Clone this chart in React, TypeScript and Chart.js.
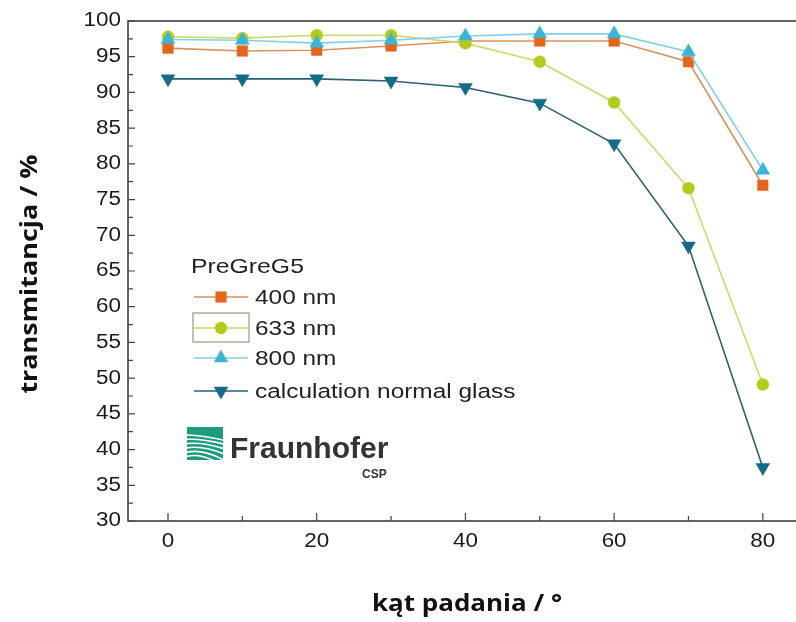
import React, { useEffect, useRef } from "react";
import { Chart, registerables } from "chart.js";
import { drawPoint } from "chart.js/helpers";

Chart.register(...registerables);

const angles = [0, 10, 20, 30, 40, 50, 60, 70, 80];
const nm400 = [96.2, 95.8, 95.9, 96.5, 97.2, 97.2, 97.2, 94.3, 77.0];
const nm633 = [97.8, 97.6, 98.0, 98.0, 96.9, 94.3, 88.6, 76.6, 49.1];
const nm800 = [97.4, 97.3, 96.9, 97.3, 97.9, 98.2, 98.2, 95.7, 79.1];
const normalGlass = [91.9, 91.9, 91.9, 91.6, 90.7, 88.5, 82.8, 68.5, 37.5];
const xTickLabels = [0, 20, 40, 60, 80];
const xMinorTicks = [10, 30, 50, 70];
const seriesNames = ["400 nm", "633 nm", "800 nm", "calculation normal glass"];
const legendTitle = "PreGreG5";
const yTitle = "transmitancja / %";
const xTitle = "kąt padania / °";

const W = 812;
const H = 622;

const toXY = (vals: number[]) => vals.map((v, i) => ({ x: angles[i], y: v }));

function stretchedText(ctx: CanvasRenderingContext2D, text: string, x: number, y: number, sx: number) {
  ctx.save();
  ctx.translate(x, y);
  ctx.scale(sx, 1);
  ctx.fillText(text, 0, 0);
  ctx.restore();
}

const framePlugin = {
  id: "frame",
  beforeDatasetsDraw(chart: any) {
    const { ctx, chartArea: a, scales } = chart;
    const xs = scales.x;
    const ys = scales.y;
    ctx.save();
    ctx.strokeStyle = "#333";
    ctx.lineWidth = 1.5;
    ctx.strokeRect(a.left, a.top, a.right - a.left, a.bottom - a.top);
    ctx.lineWidth = 1.2;
    ctx.strokeStyle = "#444";
    ctx.beginPath();
    for (let v = 30; v <= 100; v += 2.5) {
      const y = ys.getPixelForValue(v);
      const major = Math.abs(v % 5) < 0.01;
      ctx.moveTo(a.left, y);
      ctx.lineTo(a.left + (major ? 7 : 5), y);
    }
    xTickLabels.forEach((v) => {
      const x = xs.getPixelForValue(v);
      ctx.moveTo(x, a.bottom);
      ctx.lineTo(x, a.bottom - 8);
    });
    xMinorTicks.forEach((v) => {
      const x = xs.getPixelForValue(v);
      ctx.moveTo(x, a.bottom);
      ctx.lineTo(x, a.bottom - 5);
    });
    ctx.stroke();

    // tick labels (stretched like the source image)
    ctx.fillStyle = "#1a1a1a";
    ctx.font = "19.5px 'Liberation Sans'";
    ctx.textBaseline = "middle";
    ctx.textAlign = "right";
    ys.ticks.forEach((t: any) => {
      stretchedText(ctx, String(t.value), a.left - 7, ys.getPixelForValue(t.value), 1.15);
    });
    ctx.textAlign = "center";
    xTickLabels.forEach((v) => {
      stretchedText(ctx, String(v), xs.getPixelForValue(v), 542, 1.15);
    });
    ctx.restore();
  },
  afterDraw(chart: any) {
    const { ctx } = chart;
    ctx.save();
    // axis titles
    ctx.fillStyle = "#111";
    ctx.font = "bold 23px 'Open Sans'";
    ctx.textAlign = "center";
    ctx.textBaseline = "middle";
    stretchedText(ctx, xTitle, 467, 604, 1.13);
    ctx.save();
    ctx.translate(30, 274);
    ctx.rotate(-Math.PI / 2);
    stretchedText(ctx, yTitle, 0, 0, 1.17);
    ctx.restore();

    // legend
    ctx.textAlign = "left";
    ctx.fillStyle = "#222";
    ctx.font = "21px 'Liberation Sans'";
    stretchedText(ctx, legendTitle, 191, 267, 1.18);
    const rows = [297, 328, 358, 391];
    ctx.font = "20px 'Liberation Sans'";
    chart.data.datasets.forEach((ds: any, i: number) => {
      const y = rows[i];
      if (i === 1) {
        ctx.strokeStyle = "#a8ae98";
        ctx.lineWidth = 1.5;
        ctx.strokeRect(193, 313, 56, 29);
      }
      ctx.strokeStyle = ds.borderColor;
      ctx.lineWidth = 1.5;
      ctx.beginPath();
      ctx.moveTo(194, y);
      ctx.lineTo(248, y);
      ctx.stroke();
      ctx.fillStyle = ds.pointBackgroundColor;
      ctx.strokeStyle = ds.pointBackgroundColor;
      ctx.lineWidth = 0.5;
      drawPoint(ctx, {
        pointStyle: ds.pointStyle,
        radius: ds.pointRadius,
        rotation: ds.pointRotation || 0,
        borderWidth: 0.5,
      } as any, 221, y);
      ctx.fillStyle = "#222";
      stretchedText(ctx, seriesNames[i], 255, y + 1, 1.22);
    });

    // Fraunhofer logo
    const lx = 187, ly = 427, lw = 36, lh = 33;
    ctx.fillStyle = "#1f9c7d";
    ctx.fillRect(lx, ly, lw, lh);
    ctx.save();
    ctx.beginPath();
    ctx.rect(lx, ly, lw, lh);
    ctx.clip();
    ctx.strokeStyle = "#fff";
    ctx.lineWidth = 1.6;
    for (let k = 0; k < 6; k++) {
      ctx.beginPath();
      ctx.moveTo(lx - 2, ly + 8 + k * 4.4);
      ctx.quadraticCurveTo(lx + 16, ly + 8 + k * 3.2, lx + lw + 4, ly + 14 + k * 3.6 + k * k * 0.4);
      ctx.stroke();
    }
    ctx.restore();
    ctx.fillStyle = "#333";
    ctx.font = "bold 30px 'Liberation Sans'";
    ctx.textBaseline = "alphabetic";
    ctx.fillText("Fraunhofer", 230, 458);
    ctx.font = "bold 12px 'Liberation Sans'";
    ctx.fillText("CSP", 362, 478);
    ctx.restore();
  },
};

export default function App() {
  const ref = useRef<HTMLCanvasElement | null>(null);
  useEffect(() => {
    if (!ref.current) return;
    const common = { borderWidth: 1.6, pointBorderWidth: 0.5, tension: 0 };
    const chart = new Chart(ref.current, {
      type: "line",
      data: {
        datasets: [
          {
            ...common,
            label: seriesNames[0],
            data: toXY(nm400),
            borderColor: "#d9925e",
            pointBackgroundColor: "#e2661c",
            pointBorderColor: "#e2661c",
            pointStyle: "rect",
            pointRadius: 7.5,
            order: 4,
          },
          {
            ...common,
            label: seriesNames[1],
            data: toXY(nm633),
            borderColor: "#cfd86a",
            pointBackgroundColor: "#b4cb1b",
            pointBorderColor: "#b4cb1b",
            pointStyle: "circle",
            pointRadius: 6,
            order: 3,
          },
          {
            ...common,
            label: seriesNames[2],
            data: toXY(nm800),
            borderColor: "#85cfe6",
            pointBackgroundColor: "#3cb4d8",
            pointBorderColor: "#3cb4d8",
            pointStyle: "triangle",
            pointRadius: 8,
            order: 2,
          },
          {
            ...common,
            label: seriesNames[3],
            data: toXY(normalGlass),
            borderColor: "#2a6074",
            pointBackgroundColor: "#146b88",
            pointBorderColor: "#146b88",
            pointStyle: "triangle",
            pointRotation: 180,
            pointRadius: 8,
            order: 1,
          },
        ] as any,
      },
      options: {
        animation: false,
        responsive: false,
        events: [],
        layout: { padding: { left: 0, top: 21, right: W - 800, bottom: 0 } },
        plugins: { legend: { display: false }, tooltip: { enabled: false } },
        scales: {
          x: {
            type: "linear",
            min: -5.38,
            max: 85,
            grid: { display: false, drawTicks: false },
            border: { display: false },
            afterBuildTicks: (s: any) => {
              s.ticks = xTickLabels.map((v) => ({ value: v }));
            },
            afterFit: (s: any) => {
              s.height = 101;
            },
            ticks: { display: false },
          },
          y: {
            type: "linear",
            min: 30,
            max: 100,
            grid: { display: false, drawTicks: false },
            border: { display: false },
            afterFit: (s: any) => {
              s.width = 128;
            },
            ticks: { display: false, stepSize: 5 },
          },
        },
      },
      plugins: [framePlugin],
    });
    return () => chart.destroy();
  }, []);
  return (
    <div
      style={{
        position: "fixed",
        left: 0,
        top: 0,
        width: 796,
        height: 622,
        overflow: "hidden",
        background: "#fff",
      }}
    >
      <canvas ref={ref} width={W} height={H} style={{ width: W, height: H, display: "block" }} />
    </div>
  );
}
